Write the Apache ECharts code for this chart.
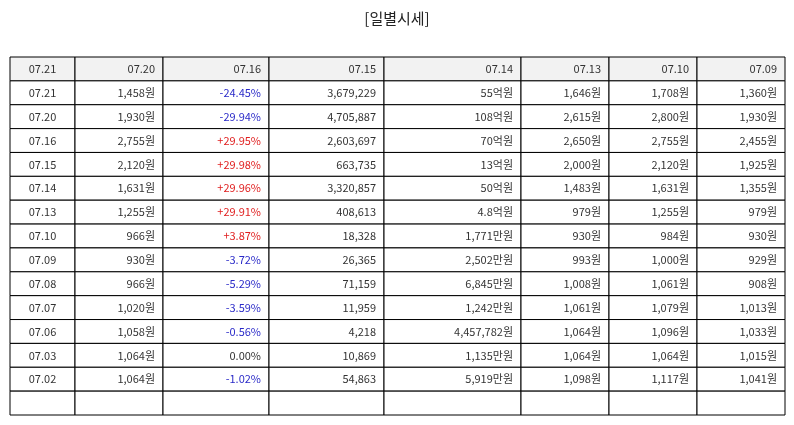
<!DOCTYPE html>
<html><head><meta charset="utf-8">
<script src="https://cdn.jsdelivr.net/npm/echarts@6/dist/echarts.min.js"></script>
<style>html,body{margin:0;padding:0;background:#fff}#c{width:794px;height:425px}</style>
</head><body><div id="c"></div>
<script>
const headers = ['07.21','07.20','07.16','07.15','07.14','07.13','07.10','07.09'];
const dates = ['07.21','07.20','07.16','07.15','07.14','07.13','07.10','07.09','07.08','07.07','07.06','07.03','07.02'];
const col2 = ['1,458원','1,930원','2,755원','2,120원','1,631원','1,255원','966원','930원','966원','1,020원','1,058원','1,064원','1,064원'];
const col3 = ['-24.45%','-29.94%','+29.95%','+29.98%','+29.96%','+29.91%','+3.87%','-3.72%','-5.29%','-3.59%','-0.56%','0.00%','-1.02%'];
const col4 = ['3,679,229','4,705,887','2,603,697','663,735','3,320,857','408,613','18,328','26,365','71,159','11,959','4,218','10,869','54,863'];
const col5 = ['55억원','108억원','70억원','13억원','50억원','4.8억원','1,771만원','2,502만원','6,845만원','1,242만원','4,457,782원','1,135만원','5,919만원'];
const col6 = ['1,646원','2,615원','2,650원','2,000원','1,483원','979원','930원','993원','1,008원','1,061원','1,064원','1,064원','1,098원'];
const col7 = ['1,708원','2,800원','2,755원','2,120원','1,631원','1,255원','984원','1,000원','1,061원','1,079원','1,096원','1,064원','1,117원'];
const col8 = ['1,360원','1,930원','2,455원','1,925원','1,355원','979원','930원','929원','908원','1,013원','1,033원','1,015원','1,041원'];

const edges = [0,65,153,259,374,511,599,687,775];
const columns = [dates,col2,col3,col4,col5,col6,col7,col8];
const nRows = dates.length + 2;
const cells = [];
for (let c = 0; c < 8; c++) {
  cells.push([c, 0, headers[c]]);
  for (let r = 0; r < nRows - 1; r++) {
    const v = r < dates.length ? columns[c][r] : '';
    cells.push([c, r + 1, v]);
  }
}
function colorOf(c, t) {
  if (c !== 2) return '#333';
  if (t.startsWith('+')) return '#e02020';
  if (t.startsWith('-')) return '#2a2ac8';
  return '#333';
}
const chart = echarts.init(document.getElementById('c'));
chart.setOption({
  animation: false,
  title: { text: '[일별시세]', left: 'center', top: 6, textStyle: { fontFamily: 'Noto Sans CJK KR', fontSize: 15, fontWeight: 'normal', color: '#222' } },
  grid: { left: 10, right: 9, top: 57, bottom: 10 },
  xAxis: { type: 'value', min: 0, max: 775, show: false },
  yAxis: { type: 'value', min: 0, max: nRows, inverse: true, show: false },
  series: [{
    type: 'custom',
    data: cells,
    renderItem: function (params, api) {
      const c = api.value(0), r = api.value(1);
      const t = cells[params.dataIndex][2];
      const p0 = api.coord([edges[c], r]);
      const p1 = api.coord([edges[c + 1], r + 1]);
      const w = p1[0] - p0[0], h = p1[1] - p0[1];
      const center = c === 0;
      return {
        type: 'group',
        children: [
          { type: 'rect', shape: { x: p0[0], y: p0[1], width: w, height: h },
            style: { fill: r === 0 ? '#f2f2f2' : '#fff', stroke: '#000', lineWidth: 1 } },
          { type: 'text', style: { text: t, x: center ? p0[0] + w / 2 : p1[0] - 8, y: p0[1] + h / 2,
              align: center ? 'center' : 'right', verticalAlign: 'middle',
              fill: r === 0 ? '#333' : colorOf(c, t), fontSize: 11, fontFamily: 'Noto Sans CJK KR' } }
        ]
      };
    }
  }]
});
</script></body></html>
